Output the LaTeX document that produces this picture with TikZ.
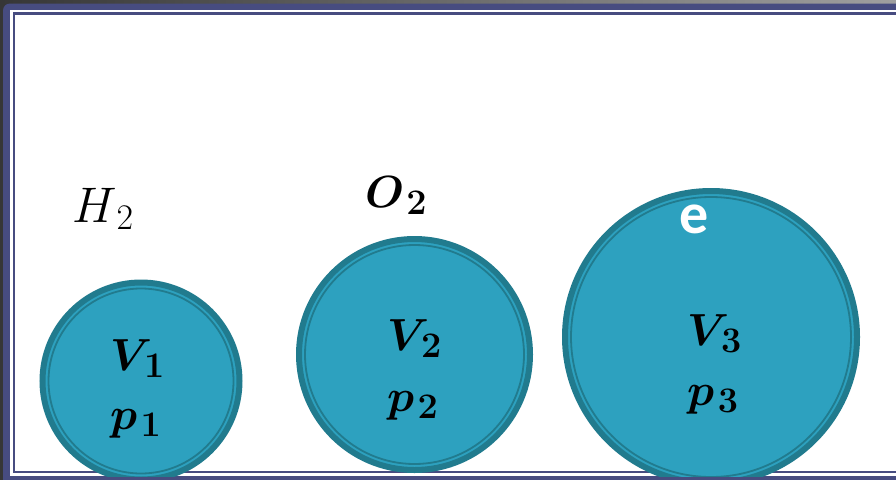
\RequirePackage{fix-cm}
\documentclass[tikz,border=0pt]{standalone}
\usepackage{amsmath,bm}
\usepackage{fontspec}
\newfontfamily\efont{Carlito}
\usetikzlibrary{positioning}
\definecolor{frameblue}{HTML}{474C80}
\definecolor{framegray}{HTML}{363636}
\definecolor{tankfill}{HTML}{2DA1BF}
\definecolor{tankrim}{HTML}{217B8E}
\tikzset{
  tank/.style={circle, draw=tankrim, fill=tankfill, line width=6pt, inner sep=0pt},
  ring/.style={draw=tankrim, line width=1.8pt},
  lbl/.style={anchor=base west, inner sep=0pt, font=\fontsize{45}{50}\selectfont},
  glbl/.style={lbl, font=\fontsize{50}{56}\selectfont}}
\newcommand{\subsz}[1]{\hbox{\fontsize{36}{38}\selectfont$#1$}}
\newcommand{\bv}[2]{\bm{#1}_{\mkern2mu\subsz{\bm{#2}}}}

\begin{document}
\begin{tikzpicture}[x=1pt, y=-1pt]
  \useasboundingbox (0,0) rectangle (896,479);
  % frame
  \shade[left color=framegray, right color=gray!75] (0,0) rectangle (896,479);
  \fill[frameblue, rounded corners=7pt] (3,3.5) rectangle (940,520);
  \fill[white] (10,10) rectangle (896,476);
  \draw[frameblue, line width=2.4pt] (14,13.5) rectangle (940,472);
  % tanks
  \begin{scope}
    \clip (10,10) rectangle (896,476);
    \node[tank, minimum size=197pt] (t1) at (141,381) {};
    \draw[ring] (t1.center) circle[radius=92.5];
    \node[tank, minimum size=231pt] (t2) at (414.5,354.5) {};
    \draw[ring] (t2.center) circle[radius=109.5];
    \node[tank, minimum size=292pt] (t3) at (711,337) {};
    \draw[ring] (t3.center) circle[radius=140];
  \end{scope}
  % labels
  \node[glbl] (h2) at (72,222) {$H_{\mkern2mu\subsz{2}}$};
  \node[lbl] (o2) at (365,207) {$\bv{O}{2}$};
  \node[anchor=base west, inner sep=0pt, text=white,
        font=\efont\bfseries\fontsize{58}{60}\selectfont] (el) at (679,233) {e};
  \node[lbl] (v1) at (110,370) {$\bv{V}{1}$};
  \node[lbl] (p1) at (110,429) {$\bv{p}{1}$};
  \node[lbl] (v2) at (387,350) {$\bv{V}{2}$};
  \node[lbl] (p2) at (387,411) {$\bv{p}{2}$};
  \node[lbl] (v3) at (687,345) {$\bv{V}{3}$};
  \node[lbl] (p3) at (687,405) {$\bv{p}{3}$};
\end{tikzpicture}
\end{document}
